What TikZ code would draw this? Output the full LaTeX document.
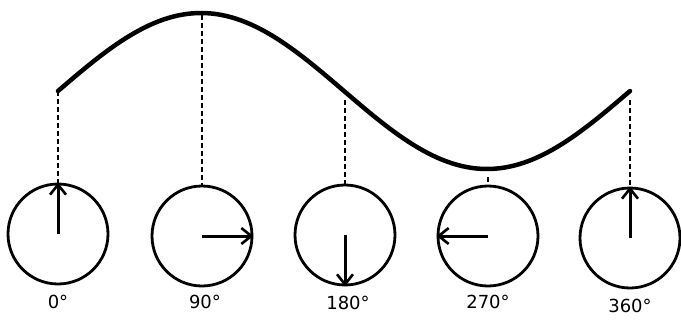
\documentclass[tikz,border=0pt]{standalone}
\usepackage{fontspec}
\setmainfont{DejaVu Sans}
\usetikzlibrary{arrows.meta}
\begin{document}
\begin{tikzpicture}[x=1pt,y=-1pt,
  wheel/.style={circle,draw,line width=2.8pt,minimum size=100pt,inner sep=0pt},
  phasor/.style={line width=3pt,-{Straight Barb[length=10pt,width=16pt,line width=2.6pt]}},
  guide/.style={line width=2.6pt,dash pattern=on 5pt off 3pt},
  wave/.style={line width=4.5pt,line cap=round},
  deg/.style={font=\fontsize{18}{18}\selectfont}]
\useasboundingbox (0,0) rectangle (681,322);
% circles
\node[wheel] (c1) at (58,234) {};
\node[wheel] (c2) at (202,236) {};
\node[wheel] (c3) at (345,235) {};
\node[wheel] (c4) at (488,236) {};
\node[wheel] (c5) at (630,238) {};
% wave
\draw[wave] plot[domain=0:360,samples=120] ({58+\x*1.58889},{91-78*sin(\x)});
\coordinate (p1) at (58,91);
\coordinate (p2) at (202,15);
\coordinate (p3) at (345,100);
\coordinate (p4) at (488,177);
\coordinate (p5) at (630,100);
% guides
\draw[guide] (p1) -- (c1.north);
\draw[guide] (p2) -- (c2.north);
\draw[guide] (p3) -- (c3.north);
\draw[guide] (p4) -- (c4.north);
\draw[guide] (p5) -- (c5.north);
% phasors
\draw[phasor] (c1.center) -- (c1.north);
\draw[phasor] (c2.center) -- (c2.east);
\draw[phasor] (c3.center) -- (c3.south);
\draw[phasor] (c4.center) -- (c4.west);
\draw[phasor] (c5.center) -- (c5.north);
% labels
\node[deg] (l1) at (58,302) {0°};
\node[deg] (l2) at (205,302) {90°};
\node[deg] (l3) at (348,303) {180°};
\node[deg] (l4) at (488,302) {270°};
\node[deg] (l5) at (630,306) {360°};
\end{tikzpicture}
\end{document}
